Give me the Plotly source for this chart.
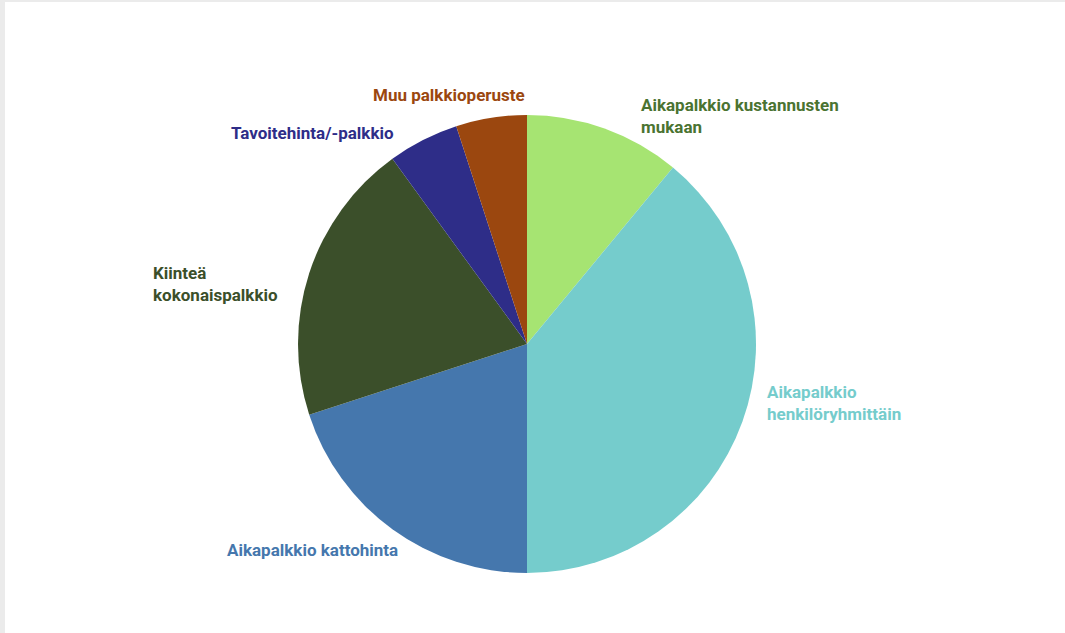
import math
import plotly.graph_objects as go

categories = [
    "Aikapalkkio kustannusten mukaan",
    "Aikapalkkio henkilöryhmittäin",
    "Aikapalkkio kattohinta",
    "Kiinteä kokonaispalkkio",
    "Tavoitehinta/-palkkio",
    "Muu palkkioperuste",
]
display_labels = [
    "Aikapalkkio kustannusten<br>mukaan",
    "Aikapalkkio<br>henkilöryhmittäin",
    "Aikapalkkio kattohinta",
    "Kiinteä<br>kokonaispalkkio",
    "Tavoitehinta/-palkkio",
    "Muu palkkioperuste",
]
values = [11, 39, 20, 20, 5, 5]
slice_colors = ["#a6e472", "#75cccc", "#4577ad", "#3b4f2a", "#2e2d88", "#9b470f"]
label_colors = ["#4a7331", "#75cccc", "#4577ad", "#3b4f2a", "#2e2d88", "#9b470f"]

# label styling (placement nudges in px relative to slice edge midpoint)
label_anchor = ["left", "left", "right", "right", "right", "right"]
label_dx = [34, 23, 8, -29, -27, 36]
label_dy = [-13, -19, 21, 11, -7, -23]

W, H = 1065, 633
ml, mr, mt, mb = 200, 211, 115, 60
pw = W - ml - mr
ph = H - mt - mb
cx = ml + pw / 2
cy = mt + ph / 2
r = ph / 2

fig = go.Figure(go.Pie(
    labels=categories,
    values=values,
    textinfo="none",
    sort=False,
    direction="clockwise",
    rotation=0,
    marker=dict(colors=slice_colors, line=dict(width=0)),
    showlegend=False,
    hoverinfo="label+value",
))

total = sum(values)
annotations = []
cum = 0
for i, v in enumerate(values):
    mid = (cum + v / 2) / total * 2 * math.pi
    cum += v
    px = cx + r * math.sin(mid)
    py = cy - r * math.cos(mid)
    annotations.append(dict(
        x=(px - ml) / pw, y=1 - (py - mt) / ph,
        xref="paper", yref="paper",
        text="<b>" + display_labels[i] + "</b>",
        showarrow=False,
        xanchor=label_anchor[i], yanchor="middle", align="left",
        xshift=label_dx[i], yshift=-label_dy[i],
        font=dict(family="Roboto", size=17, color=label_colors[i]),
    ))

fig.update_layout(
    width=W, height=H,
    margin=dict(l=ml, r=mr, t=mt, b=mb),
    paper_bgcolor="#ebebeb",
    annotations=annotations,
    shapes=[dict(
        type="rect", xref="paper", yref="paper", layer="below",
        x0=(5 - ml) / pw, x1=(W - ml) / pw,
        y0=-mb / ph, y1=(ph + mt - 2) / ph,
        fillcolor="white", line=dict(width=0),
    )],
)

fig.write_html(
    "out.html",
    config={"displayModeBar": False},
    post_script="document.body.style.margin='0';document.body.style.overflow='hidden';",
)
